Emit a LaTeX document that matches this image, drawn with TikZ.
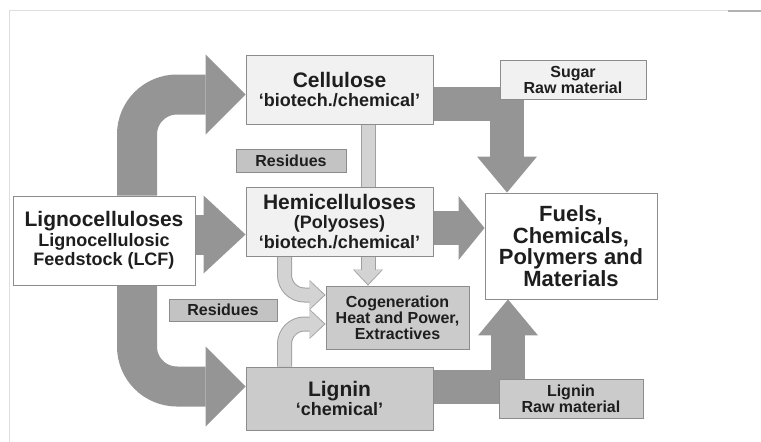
\documentclass[tikz,border=0pt]{standalone}
\usepackage{fontspec}
\setmainfont{Liberation Sans}
\usetikzlibrary{arrows.meta,backgrounds}
\definecolor{flowgray}{HTML}{959595}
\definecolor{lightfill}{HTML}{D3D3D3}
\definecolor{flowedge}{HTML}{A0A0A0}
\definecolor{boxedge}{HTML}{8C8C8C}
\definecolor{palebox}{HTML}{F1F1F1}
\definecolor{midbox}{HTML}{CBCBCB}
\definecolor{resbox}{HTML}{C3C3C3}
\definecolor{inkgray}{HTML}{1E1E1E}
\definecolor{framegray}{HTML}{DEDEDE}
\newcommand{\bigtxt}[1]{{\fontsize{21}{23}\selectfont #1}}
\tikzset{
  box/.style={draw=boxedge, line width=0.9pt, inner sep=0pt, align=center, text=inkgray,
    font=\fontsize{18}{19.5}\selectfont\bfseries},
  smallbox/.style={box, font=\fontsize{16}{16}\selectfont\bfseries},
  flow/.style args={#1/#2/#3}{draw=flowgray, line width=#1,
    -{Triangle[width=#2,length=#3,line width=0pt]}},
  feed/.style={flow=40pt/80pt/40pt, rounded corners=40pt},
  lightflow/.style={draw=lightfill, line width=13pt, rounded corners=20pt,
    -{Triangle[width=27pt,length=14pt,line width=0pt]}, shorten >=1.5pt,
    preaction={draw=flowedge, line width=15pt,
      -{Triangle[width=30pt,length=16pt,line width=0pt]}, shorten >=0pt}}
}
\begin{document}
\begin{tikzpicture}[x=1pt,y=-1pt]
\useasboundingbox (0,0) rectangle (761,442);
\draw[framegray, line width=0.8pt] (9,442) -- (9,10) -- (761,10);
\draw[gray!60, line width=1.2pt] (728,11) -- (761,11);
% boxes
\node[box, fill=white, minimum width=182pt, minimum height=89pt] (lig) at (104,240.5)
  {\bigtxt{Lignocelluloses}\\Lignocellulosic\\Feedstock (LCF)};
\node[box, fill=palebox, minimum width=187pt, minimum height=69pt] (cel) at (339.5,89.5)
  {\bigtxt{Cellulose}\\‘biotech./chemical’};
\node[box, fill=palebox, minimum width=187pt, minimum height=69pt] (hem) at (339.5,221.5)
  {\bigtxt{Hemicelluloses}\\(Polyoses)\\‘biotech./chemical’};
\node[box, fill=midbox, minimum width=187pt, minimum height=63pt] (lign) at (339.5,398.5)
  {\bigtxt{Lignin}\\‘chemical’};
\node[box, fill=white, minimum width=172pt, minimum height=106pt,
  font=\fontsize{22}{21.5}\selectfont\bfseries] (fuel) at (571,246)
  {Fuels,\\Chemicals,\\Polymers and\\Materials};
\node[smallbox, fill=palebox, minimum width=146pt, minimum height=39pt] (sugar) at (573,79.5)
  {Sugar\\Raw material};
\node[smallbox, fill=midbox, minimum width=144pt, minimum height=39pt] (lignraw) at (571,398.5)
  {Lignin\\Raw material};
\node[smallbox, fill=midbox, minimum width=143pt, minimum height=63pt] (cog) at (397.5,317.5)
  {Cogeneration\\Heat and Power,\\Extractives};
\node[smallbox, fill=resbox, minimum width=110pt, minimum height=23pt] (res1) at (291,160.5) {Residues};
\node[smallbox, fill=resbox, minimum width=108pt, minimum height=22pt] (res2) at (223,310) {Residues};
% flows
\begin{scope}[on background layer]
\coordinate (lighem) at ([yshift=6pt]lig.east);
\coordinate (hemfuel) at ([yshift=-6.5pt]hem.east);
\coordinate (celcog) at ([xshift=28.5pt]cel.south);
\draw[feed] ([xshift=33pt]lig.north) |- ([yshift=-5pt]cel.west);
\draw[flow=40pt/78pt/42pt] (lighem) -- (lighem -| hem.west);
\draw[feed] ([xshift=33pt]lig.south) |- ([yshift=12pt]lign.west);
\draw[flow=34pt/60pt/36pt] ([yshift=-14pt]cel.east) -| ([xshift=-64pt]fuel.north);
\draw[flow=34pt/64pt/26pt] (hemfuel) -- (hemfuel -| fuel.west);
\draw[flow=34pt/60pt/36pt] ([yshift=12pt]lign.east) -| ([xshift=-63pt]fuel.south);
\draw[lightflow] (celcog) -- (celcog |- cog.north);
\draw[lightflow] ([xshift=-55pt]hem.south) |- ([yshift=22.5pt]cog.west);
\draw[lightflow] ([xshift=-55pt]lign.north) |- ([yshift=-6.5pt]cog.west);
\end{scope}
\end{tikzpicture}
\end{document}
